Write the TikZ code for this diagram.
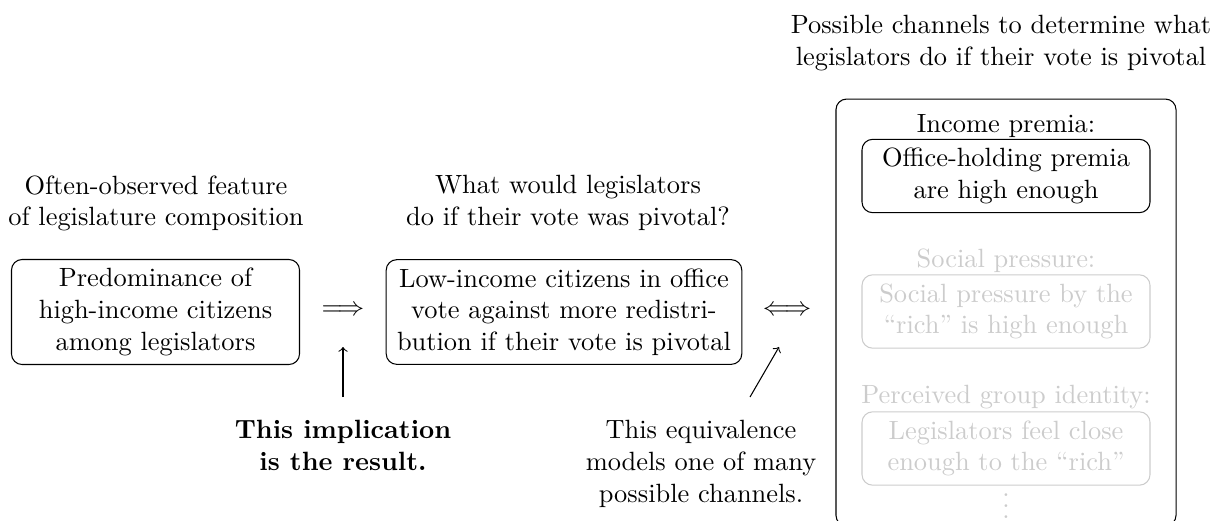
\documentclass[tikz,border=0pt]{standalone}
\usetikzlibrary{calc}
\definecolor{faint}{gray}{0.8}
\begin{document}
\begin{tikzpicture}[x=0.3788pt,y=-0.3788pt,
  box/.style={draw, rounded corners, align=center, text width=3.6cm},
  widebox/.style={box, text width=4.5cm},
  faintbox/.style={box, draw=faint, text=faint},
  lbl/.style={align=center, inner sep=0pt, anchor=north},
  faintlbl/.style={lbl, text=faint},
  conn/.style={->}
]
\useasboundingbox (0,0) rectangle (1215,520);

% left part
\node[lbl] (featlbl) at (156,175) {Often-observed feature\\of legislature composition};
\node[lbl] (whatlbl) at (568,175) {What would legislators\\do if their vote was pivotal?};
\node[box] (pred) at (155.5,312) {Predominance of\\high-income citizens\\among legislators};
\node[widebox] (low) at (564,312) {Low-income citizens in office\\vote against more redistri-\\bution if their vote is pivotal};
\node (impl) at (343,311) {$\Longrightarrow$};
\node (equiv) at (787,311) {$\Longleftrightarrow$};
\node[lbl, font=\bfseries] (result) at (343,420) {This implication\\is the result.};
\node[lbl] (model) at (701,420) {This equivalence\\models one of many\\possible channels.};

\coordinate (rtail) at (343,397);
\coordinate (rtip) at (343,347);
\coordinate (mtail) at (750,397);
\coordinate (mtip) at (779,347);
\draw[conn] (rtail) -- (rtip);
\draw[conn] (mtail) -- (mtip);

% right part
\node[lbl] (title) at (1001,15) {Possible channels to determine what\\legislators do if their vote is pivotal};
\node[draw, rounded corners, minimum width=128.8pt, minimum height=161.7pt, inner sep=0pt] (chan) at (1006,312.5) {};
\node[lbl] (iplbl) at (1006,114) {Income premia:};
\node[box] (ipbox) at (1006,176) {Office-holding premia\\are high enough};
\node[faintlbl] (splbl) at (1006,248.7) {Social pressure:};
\node[faintbox] (spbox) at (1006,311.5) {Social pressure by the\\``rich'' is high enough};
\node[faintlbl] (pglbl) at (1006,384.7) {Perceived group identity:};
\node[faintbox] (pgbox) at (1006,448.5) {Legislators feel close\\enough to the ``rich''};
\node[inner sep=0pt, anchor=base, text=faint] (dots) at (1006,518) {\vdots};
\end{tikzpicture}
\end{document}
